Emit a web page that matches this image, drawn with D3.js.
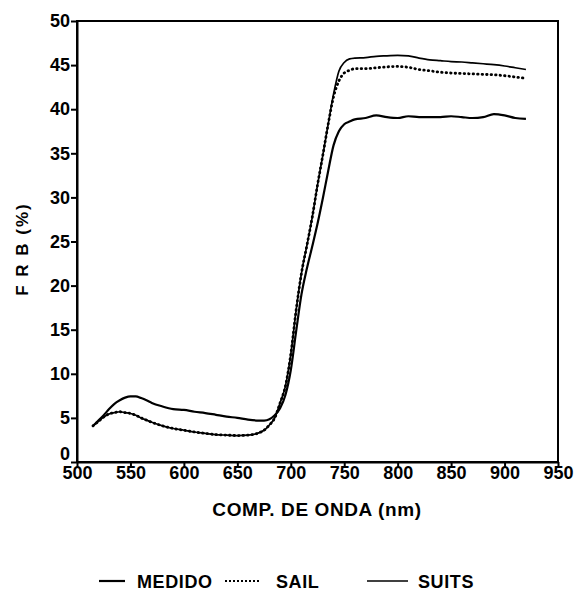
<!DOCTYPE html>
<html>
<head>
<meta charset="utf-8">
<script src="https://cdn.jsdelivr.net/npm/d3@7"></script>
<style>
  body { margin: 0; background: #fff; }
  svg text { font-family: "Liberation Sans", Arial, sans-serif; font-weight: bold; fill: #000; }
</style>
</head>
<body>
<script>
'use strict';

var width = 579;
var height = 596;

// comprimento de onda (nm)
var wavelengths = [515, 520, 525, 530, 535, 540, 545, 550, 555, 560, 565, 570, 580, 590, 600,
    610, 620, 630, 640, 650, 660, 670, 675, 680, 685, 690, 695, 700, 705, 710, 715, 720, 725,
    730, 735, 740, 745, 750, 755, 760, 770, 780, 790, 800, 810, 820, 830, 840, 850, 860, 870,
    880, 890, 900, 910, 920];

var medido = [4.1, 4.7, 5.3, 6.0, 6.6, 7.0, 7.3, 7.45, 7.45, 7.25, 7.0, 6.7, 6.3, 6.0, 5.9,
    5.7, 5.55, 5.35, 5.15, 5.0, 4.8, 4.7, 4.7, 4.85, 5.3, 6.1, 7.6, 10.4, 14.8, 19.0, 21.9, 24.4, 27.0,
    29.9, 33.0, 35.9, 37.5, 38.3, 38.6, 38.85, 39.0, 39.3, 39.1, 39.0, 39.2, 39.1, 39.1, 39.1, 39.2, 39.1, 39.0,
    39.1, 39.45, 39.3, 39.0, 38.9];

var sail = [4.1, 4.6, 5.1, 5.45, 5.6, 5.7, 5.6, 5.5, 5.3, 5.0, 4.75, 4.5, 4.1, 3.8, 3.6,
    3.4, 3.25, 3.1, 3.05, 3.0, 3.05, 3.3, 3.6, 4.2, 5.0, 6.7, 8.6, 12.2, 17.2, 21.4, 24.5, 27.7, 31.4,
    34.8, 38.3, 41.4, 43.2, 44.1, 44.4, 44.6, 44.6, 44.7, 44.8, 44.85, 44.75, 44.5, 44.35, 44.2, 44.1, 44.05, 44.0,
    43.95, 43.9, 43.8, 43.65, 43.5];

var suits = [4.1, 4.6, 5.1, 5.45, 5.6, 5.7, 5.6, 5.5, 5.3, 5.0, 4.75, 4.5, 4.1, 3.8, 3.6,
    3.4, 3.25, 3.1, 3.05, 3.0, 3.05, 3.3, 3.6, 4.2, 5.0, 6.7, 8.6, 12.2, 17.2, 21.4, 24.5, 27.7, 31.4,
    34.8, 38.3, 41.7, 44.3, 45.3, 45.7, 45.8, 45.85, 46.0, 46.05, 46.1, 46.05, 45.8, 45.6, 45.5, 45.4, 45.35, 45.25,
    45.15, 45.05, 44.9, 44.7, 44.5];

var xTicks = [500, 550, 600, 650, 700, 750, 800, 850, 900, 950];
var yTicks = [0, 5, 10, 15, 20, 25, 30, 35, 40, 45, 50];

var seriesNames = ['MEDIDO', 'SAIL', 'SUITS'];

var svg = d3.select('body').append('svg')
    .attr('width', width)
    .attr('height', height);

var x = d3.scaleLinear().domain([500, 950]).range([77, 558]);
var y = d3.scaleLinear().domain([0, 50]).range([462, 21]);

// moldura
svg.append('rect')
    .attr('x', x(500))
    .attr('y', y(50))
    .attr('width', x(950) - x(500))
    .attr('height', y(0) - y(50))
    .style('fill', 'none')
    .style('stroke', '#000')
    .style('stroke-width', 2);

var xAxis = svg.append('g')
    .attr('transform', 'translate(0,' + y(0) + ')')
    .call(d3.axisBottom(x).tickValues(xTicks).tickSize(5).tickSizeOuter(0).tickPadding(-1));

var yAxis = svg.append('g')
    .attr('transform', 'translate(' + x(500) + ',0)')
    .call(d3.axisLeft(y).tickValues(yTicks).tickSize(6).tickSizeOuter(0).tickPadding(1));

[xAxis, yAxis].forEach(function (g) {
    g.select('.domain').style('stroke', '#000').style('stroke-width', 2);
    g.selectAll('.tick line').style('stroke', '#000').style('stroke-width', 2);
    g.selectAll('.tick text')
        .style('font-family', '"Liberation Sans", Arial, sans-serif')
        .style('font-weight', 'bold')
        .style('font-size', '18px')
        .style('fill', '#000');
});

// o "0" fica um pouco acima para nao tocar no "500"
yAxis.selectAll('.tick text')
    .filter(function (d) { return d === 0; })
    .attr('dy', '-0.12em');

svg.append('text')
    .attr('x', 317)
    .attr('y', 516)
    .attr('text-anchor', 'middle')
    .style('font-size', '19px')
    .style('letter-spacing', '0.6px')
    .text('COMP. DE ONDA (nm)');

svg.append('text')
    .attr('transform', 'translate(28,249) rotate(-90)')
    .attr('text-anchor', 'middle')
    .style('font-size', '17px')
    .style('letter-spacing', '2px')
    .text('F R B (%)');

function series (values) {
    return wavelengths.map(function (w, i) { return [w, values[i]]; });
}

var line = d3.line()
    .x(function (d) { return x(d[0]); })
    .y(function (d) { return y(d[1]); })
    .curve(d3.curveMonotoneX);

var styles = {
    MEDIDO: { width: 2.2, dash: null, cap: 'butt' },
    SAIL: { width: 2.8, dash: '0.5,4', cap: 'round' },
    SUITS: { width: 1.7, dash: null, cap: 'butt' }
};

var data = { MEDIDO: medido, SAIL: sail, SUITS: suits };

seriesNames.forEach(function (name) {
    svg.append('path')
        .datum(series(data[name]))
        .attr('d', line)
        .style('fill', 'none')
        .style('stroke', '#000')
        .style('stroke-width', styles[name].width)
        .style('stroke-dasharray', styles[name].dash)
        .style('stroke-linecap', styles[name].cap)
        .style('stroke-linejoin', 'round');
});

// legenda
var legendItems = [
    { name: 'MEDIDO', x1: 99, x2: 125, tx: 137 },
    { name: 'SAIL', x1: 225, x2: 261, tx: 276 },
    { name: 'SUITS', x1: 367, x2: 408, tx: 418 }
];

var legend = svg.append('g').attr('transform', 'translate(0,581)');

legendItems.forEach(function (item) {
    var st = styles[item.name];
    legend.append('line')
        .attr('x1', item.x1)
        .attr('x2', item.x2)
        .attr('y1', 0)
        .attr('y2', 0)
        .style('stroke', '#000')
        .style('stroke-width', item.name === 'SAIL' ? 2 : st.width)
        .style('stroke-dasharray', item.name === 'SAIL' ? '2,2' : null);
    legend.append('text')
        .attr('x', item.tx)
        .attr('y', 6.5)
        .style('font-size', '18px')
        .style('letter-spacing', '0.6px')
        .text(item.name);
});
</script>
</body>
</html>
